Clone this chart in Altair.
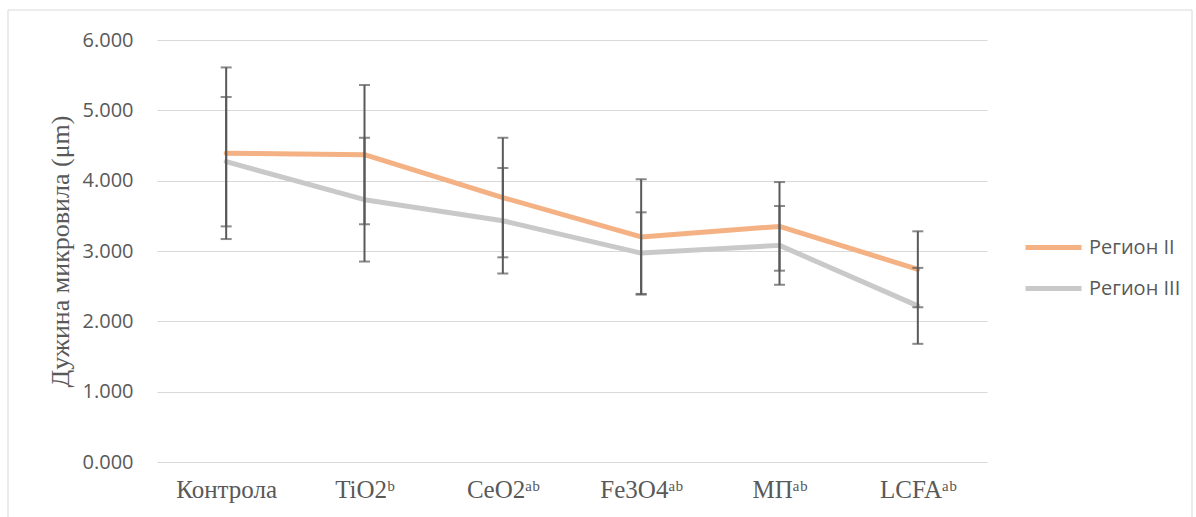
import altair as alt
import pandas as pd

categories = ["Контрола", "TiO2ᵇ", "CeO2ᵃᵇ", "Fe3O4ᵃᵇ", "МПᵃᵇ", "LCFAᵃᵇ"]
series_names = ["Регион II", "Регион III"]
series_colors = ["#F4B183", "#C9C9C9"]
region2_mean = [4.39, 4.37, 3.76, 3.20, 3.35, 2.74]
region2_err = [1.22, 0.99, 0.85, 0.82, 0.63, 0.54]
region3_mean = [4.27, 3.73, 3.43, 2.97, 3.08, 2.22]
region3_err = [0.92, 0.88, 0.75, 0.58, 0.56, 0.54]
y_ticks = [0, 1, 2, 3, 4, 5, 6]
y_title = "Дужина микровила (μm)"

rows = []
for name, means, errs in ((series_names[0], region2_mean, region2_err),
                          (series_names[1], region3_mean, region3_err)):
    for i, (c, m, e) in enumerate(zip(categories, means, errs)):
        rows.append({"cat": c, "series": name, "idx": i, "mean": m,
                     "lo": round(m - e, 3), "hi": round(m + e, 3)})
df = pd.DataFrame(rows)

TXT = "#595959"
x_enc = alt.X("cat:N", sort=categories,
              scale=alt.Scale(type="point", padding=0.5),
              axis=alt.Axis(title=None, labelFont="Liberation Serif", labelFontSize=25,
                            labelColor=TXT, labelPadding=15, ticks=False, domain=False,
                            labelAngle=0, grid=False))
y_scale = alt.Scale(domain=[0, 6], nice=False, zero=True)

base = alt.Chart(df)

border = alt.Chart(pd.DataFrame({"k": [0]})).mark_rect(
    fillOpacity=0, stroke="#D9D9D9", strokeWidth=1
).encode(x=alt.value(-149), x2=alt.value(1035), y=alt.value(-30), y2=alt.value(500))

lines = base.mark_line(strokeWidth=5, strokeCap="round", strokeJoin="round").encode(
    x=x_enc,
    y=alt.Y("mean:Q", scale=y_scale,
            axis=alt.Axis(values=y_ticks, format=".3f", title=y_title,
                          labelFont="Open Sans", labelFontSize=20, labelColor=TXT,
                          labelPadding=24, ticks=False, domain=False,
                          grid=True, gridColor="#D9D9D9", gridWidth=1,
                          titleFont="Liberation Serif", titleFontSize=26,
                          titleFontWeight="normal", titleColor=TXT,
                          titleX=-97, titleY=211, titleAngle=270,
                          titleAlign="center", titleBaseline="middle")),
    color=alt.Color("series:N",
                    scale=alt.Scale(domain=series_names, range=series_colors),
                    legend=alt.Legend(title=None, orient="none", legendX=866, legendY=177,
                                      symbolType="stroke", symbolSize=3136,
                                      symbolStrokeWidth=5, labelFont="Open Sans",
                                      labelFontSize=20, labelColor=TXT, labelOffset=5,
                                      rowPadding=-9, padding=0)),
    order=alt.Order("idx:Q"),
)

bars = base.mark_rule(color="#595959", strokeWidth=2).encode(
    x=x_enc, y=alt.Y("lo:Q", scale=y_scale), y2="hi:Q")
caps_lo = base.mark_tick(color="#595959", size=11, thickness=2).encode(
    x=x_enc, y=alt.Y("lo:Q", scale=y_scale))
caps_hi = base.mark_tick(color="#595959", size=11, thickness=2).encode(
    x=x_enc, y=alt.Y("hi:Q", scale=y_scale))

chart = alt.layer(border, lines, bars, caps_lo, caps_hi).properties(
    width=830, height=422,
    autosize=alt.AutoSizeParams(type="none"),
    padding={"left": 157, "top": 40, "right": 209, "bottom": 55},
    background="white",
).configure_view(strokeWidth=0)

chart.save("out.html", embed_options={"renderer": "svg", "actions": False})
